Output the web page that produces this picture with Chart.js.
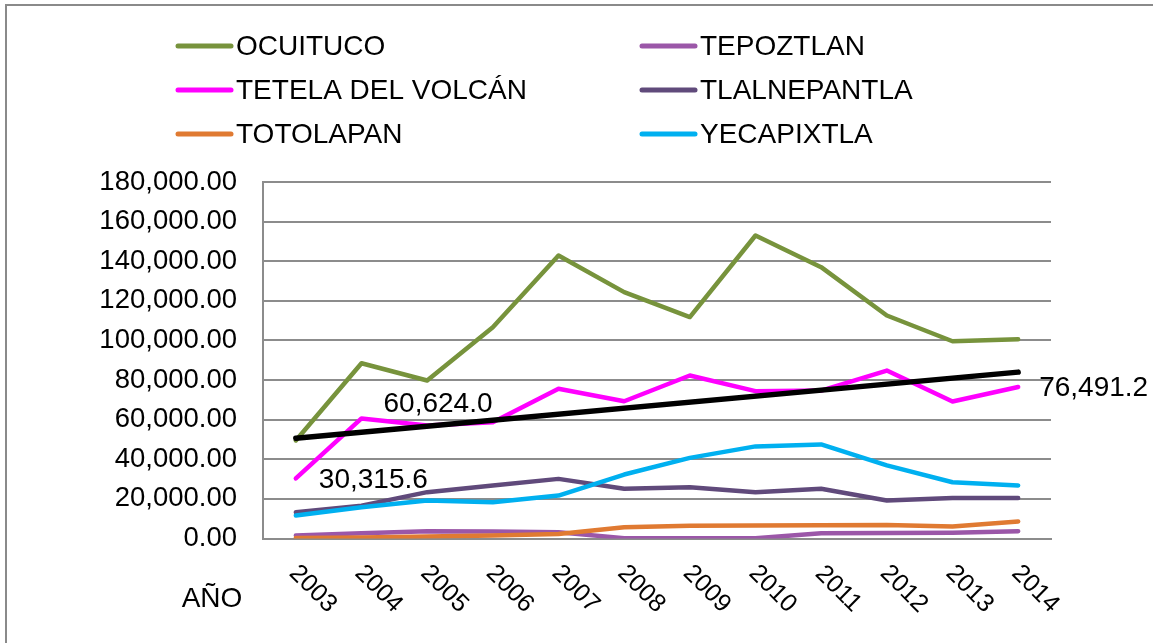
<!DOCTYPE html>
<html>
<head>
<meta charset="utf-8">
<script src="https://cdn.jsdelivr.net/npm/chart.js@4/dist/chart.umd.min.js"></script>
<style>
  html, body { margin: 0; padding: 0; background: #ffffff; }
  #wrap { width: 1153px; height: 643px; position: relative; }
</style>
</head>
<body>
<div id="wrap"><canvas id="c" width="1153" height="643"></canvas></div>
<script>
// ---- data ----
const years = ['2003','2004','2005','2006','2007','2008','2009','2010','2011','2012','2013','2014'];
const ocuituco     = [49500, 88500, 79800, 106700, 142900, 124400, 111800, 153000, 137000, 112600, 99600, 100600];
const tepoztlan    = [1500, 2700, 3700, 3500, 3200, 150, 100, 100, 2700, 2800, 2900, 3700];
const tetela       = [30315.6, 60624.0, 57000, 58700, 75600, 69300, 82300, 74400, 74700, 84800, 69200, 76491.2];
const tlalnepantla = [13300, 16600, 23400, 26800, 30100, 25100, 25900, 23400, 25100, 19200, 20400, 20400];
const totolapan    = [200, 500, 1000, 1500, 2300, 5700, 6500, 6600, 6700, 6800, 6000, 8600];
const yecapixtla   = [11600, 15800, 19200, 18300, 21700, 32300, 40700, 46500, 47500, 36900, 28400, 26800];
const trendEnds    = [50650, 84000];           // linear trend line, first and last year
const tetelaLabelIdx = [0, 1, 11];             // points of TETELA carrying data labels
const yTicks = [0, 20000, 40000, 60000, 80000, 100000, 120000, 140000, 160000, 180000];
const xAxisTitle = 'AÑO';

const trendData = years.map((_, i) => i === 0 ? trendEnds[0] : (i === years.length - 1 ? trendEnds[1] : null));

const fmt2 = v => v.toLocaleString('en-US', {minimumFractionDigits: 2, maximumFractionDigits: 2});
const fmt1 = v => v.toLocaleString('en-US', {minimumFractionDigits: 1, maximumFractionDigits: 1});

const FONT = '"Liberation Sans", Arial, sans-serif';

function ds(label, data, color, order, width) {
  return {
    label, data, borderColor: color, backgroundColor: color,
    borderWidth: width || 4.5, pointRadius: 0, pointHoverRadius: 0,
    tension: 0, borderCapStyle: 'round', borderJoinStyle: 'round',
    order, fill: false
  };
}

const datasets = [
  ds('OCUITUCO', ocuituco, '#77933C', 6),
  ds('TEPOZTLAN', tepoztlan, '#9B57A8', 5),
  ds('TETELA DEL VOLCÁN', tetela, '#FF00FF', 4),
  ds('TLALNEPANTLA', tlalnepantla, '#604A7B', 3),
  ds('TOTOLAPAN', totolapan, '#E07A32', 2),
  ds('YECAPIXTLA', yecapixtla, '#00B0F0', 1),
  Object.assign(ds('trend', trendData, '#000000', 0, 5.5), {spanGaps: true})
];

const frame = {
  id: 'frame',
  beforeDraw(chart) {
    const ctx = chart.ctx;
    ctx.save();
    ctx.fillStyle = '#ffffff';
    ctx.fillRect(0, 0, chart.width, chart.height);
    ctx.strokeStyle = '#8a8a8a';
    ctx.lineWidth = 2;
    ctx.strokeRect(6, 5, 1300, 800);
    ctx.restore();
  }
};

const legendPlugin = {
  id: 'customLegend',
  afterDraw(chart) {
    const ctx = chart.ctx;
    const cols = [176, 640];
    const rows = [46, 90, 134];
    ctx.save();
    ctx.font = '28px ' + FONT;
    ctx.textBaseline = 'middle';
    ctx.textAlign = 'left';
    for (let i = 0; i < 6; i++) {
      const d = chart.data.datasets[i];
      const x = cols[i % 2], y = rows[Math.floor(i / 2)];
      ctx.strokeStyle = d.borderColor;
      ctx.lineWidth = 5;
      ctx.lineCap = 'round';
      ctx.beginPath();
      ctx.moveTo(x + 2, y);
      ctx.lineTo(x + 55, y);
      ctx.stroke();
      ctx.fillStyle = '#000';
      ctx.fillText(d.label, x + 60, y + 1);
    }
    ctx.restore();
  }
};

const labelsPlugin = {
  id: 'extraText',
  afterDraw(chart) {
    const ctx = chart.ctx;
    const xs = chart.scales.x, ys = chart.scales.y;
    ctx.save();
    ctx.fillStyle = '#000';
    // rotated year labels
    ctx.font = '25px ' + FONT;
    ctx.textAlign = 'center';
    ctx.textBaseline = 'middle';
    years.forEach((yr, i) => {
      const x = xs.getPixelForValue(i) + 17;
      ctx.save();
      ctx.translate(x, 589);
      ctx.rotate(Math.PI / 4);
      ctx.fillText(yr, 0, 0);
      ctx.restore();
    });
    // axis title
    ctx.font = '28px ' + FONT;
    ctx.fillText(xAxisTitle, 212, 599);
    // data labels on TETELA DEL VOLCÁN
    ctx.font = '28px ' + FONT;
    ctx.textAlign = 'left';
    const offs = {0: [23, 2], 1: [22, -14], 11: [21, 1]};
    tetelaLabelIdx.forEach(i => {
      const px = xs.getPixelForValue(i), py = ys.getPixelForValue(tetela[i]);
      const o = offs[i] || [22, 0];
      ctx.fillText(fmt1(tetela[i]), px + o[0], py + o[1]);
    });
    ctx.restore();
  }
};

new Chart(document.getElementById('c'), {
  type: 'line',
  data: { labels: years, datasets },
  options: {
    responsive: false,
    animation: false,
    devicePixelRatio: 1,
    layout: { padding: { left: 0, top: 182, right: 102, bottom: 0 } },
    plugins: { legend: { display: false }, tooltip: { enabled: false } },
    scales: {
      x: {
        type: 'category',
        offset: true,
        grid: { display: false, drawTicks: false },
        border: { display: true, color: '#8c8c8c', width: 2 },
        ticks: { display: false },
        afterFit(scale) { scale.height = 104.5; }
      },
      y: {
        min: 0, max: 180000,
        afterBuildTicks(scale) { scale.ticks = yTicks.map(v => ({ value: v })); },
        grid: { color: '#8c8c8c', lineWidth: 2, drawTicks: false },
        border: { display: true, color: '#8c8c8c', width: 2 },
        ticks: {
          padding: 26,
          color: '#000',
          font: { family: FONT, size: 27.5 },
          callback: v => fmt2(v)
        },
        afterFit(scale) { scale.width = 263; }
      }
    }
  },
  plugins: [frame, legendPlugin, labelsPlugin]
});
</script>
</body>
</html>
